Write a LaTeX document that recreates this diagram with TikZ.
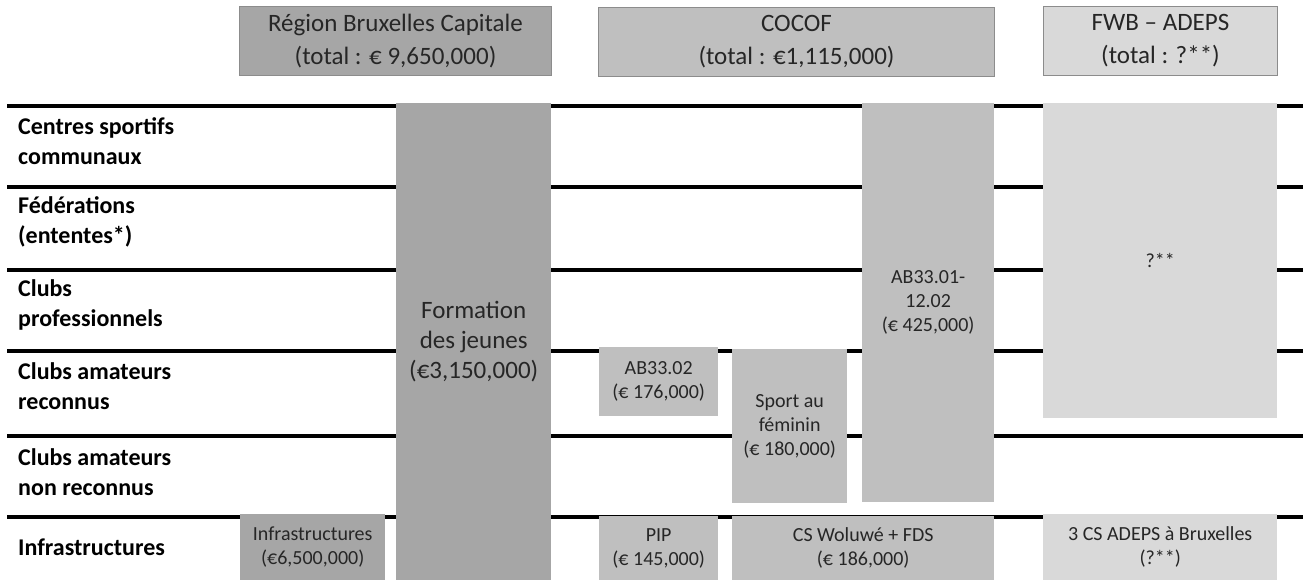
\documentclass[tikz,border=0pt]{standalone}
\usepackage{fontspec}
\setmainfont{Carlito}
\usetikzlibrary{positioning}
\definecolor{rbc}{HTML}{A6A6A6}
\definecolor{cocof}{HTML}{BFBFBF}
\definecolor{fwb}{HTML}{D9D9D9}
\definecolor{edge}{HTML}{8C8C8C}
\definecolor{ink}{HTML}{262626}
\tikzset{
  rule/.style={line width=3.6pt},
  wh/.style 2 args={minimum width=#1pt, minimum height=#2pt},
  cell/.style={anchor=north west, inner sep=0pt, align=center, text=ink, font=\fontsize{20}{24}\selectfont},
  big/.style={cell, font=\fontsize{25}{30}\selectfont},
  head/.style={big, draw=edge, line width=1pt, font=\fontsize{25}{33}\selectfont},
  rowlabel/.style={anchor=west, inner sep=0pt, align=left, font=\fontsize{24}{30}\selectfont\bfseries},
}
\begin{document}
\begin{tikzpicture}[x=1pt,y=-1pt]
\useasboundingbox (0,0) rectangle (1303,580);
% row separators
\foreach \y in {106,187,270,351,436,517} {
	\draw[rule] (7,\y) -- (1303,\y);
}
% row labels
\foreach \y/\txt [count=\i] in {141/{Centres sportifs\\communaux},222/{Fédérations\\(ententes*)},305/{Clubs\\professionnels},386/{Clubs amateurs\\reconnus},472/{Clubs amateurs\\non reconnus},547/{Infrastructures}} {
	\node[rowlabel] (row\i) at (18,\y) {\txt};
}
% funders
\node[head, fill=rbc, wh={312}{69}] (hrbc) at (239,6) {Région Bruxelles Capitale\\(total : € 9,650,000)};
\node[head, fill=cocof, wh={396}{69}] (hcocof) at (598,7) {COCOF\\(total : €1,115,000)};
\node[head, fill=fwb, wh={234}{69}] (hfwb) at (1043,6) {FWB – ADEPS\\(total : ?**)};
% Region
\node[big, fill=rbc, wh={155}{477}] (form) at (396,103) {Formation\\des jeunes\\(€3,150,000)};
\node[cell, fill=rbc, wh={145}{66}] (infra) at (240,514) {Infrastructures\\(€6,500,000)};
% COCOF
\node[cell, fill=cocof, wh={119}{69}] (ab3302) at (599,347) {AB33.02\\(€ 176,000)};
\node[cell, fill=cocof, wh={115}{154}] (sport) at (732,349) {Sport au\\féminin\\(€ 180,000)};
\node[cell, fill=cocof, wh={132}{399}] (ab3301) at (862,103) {AB33.01-\\12.02\\(€ 425,000)};
\node[cell, fill=cocof, wh={119}{64}] (pip) at (599,516) {PIP\\(€ 145,000)};
\node[cell, fill=cocof, wh={262}{64}] (cswol) at (732,516) {CS Woluwé + FDS\\(€ 186,000)};
% FWB
\node[cell, fill=fwb, wh={234}{315}] (fwbq) at (1043,103) {?**};
\node[cell, fill=fwb, wh={234}{66}] (adeps) at (1043,514) {3 CS ADEPS à Bruxelles\\(?**)};
\end{tikzpicture}
\end{document}
